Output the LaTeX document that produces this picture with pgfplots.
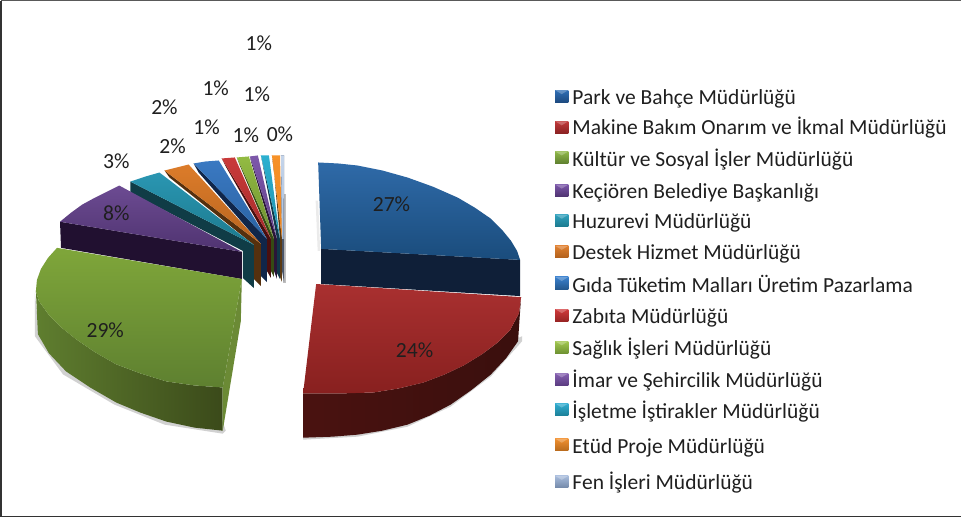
\documentclass[border=0pt]{standalone}
\usepackage{pgfplots}
\pgfplotsset{compat=1.18}
\usepackage{fontspec}
\setmainfont{Carlito}

% colours are given as HTML hex, h<hex> is defined globally for the deferred plots
\newcommand{\hc}[1]{\xglobal\definecolor{h#1}{HTML}{#1}}
\newcommand{\face}[3]{\hc{#1}\hc{#2}\addplot[draw=none,shade,top color=h#1,bottom color=h#2,forget plot] coordinates {#3} -- cycle;}
\newcommand{\side}[2]{\hc{#1}\addplot[draw=none,fill=h#1,forget plot] coordinates {#2} -- cycle;}
\newcommand{\hside}[3]{\hc{#1}\hc{#2}\addplot[draw=none,shade,left color=h#1,right color=h#2,forget plot] coordinates {#3} -- cycle;}
\newcommand{\lab}[3]{\node[text=black!88,font=\fontsize{21.5}{21.5}\selectfont] at (axis cs:#1,#2) {#3};}
\newcommand{\legrow}[5]{%
  \hc{#2}\hc{#3}%
  \addplot[draw=none,shade,top color=h#2,bottom color=h#3,forget plot] coordinates {(554,#1-6) (567,#1-6) (567,#1+6) (554,#1+6)} -- cycle;
  \addplot[draw=none,fill=white,fill opacity=0.25,forget plot] coordinates {(554,#1-6) (567,#1-6) (560.5,#1-2)} -- cycle;
  \node[anchor=base west,inner sep=0pt,text=black!88,font=\fontsize{21.4}{21.4}\selectfont] at (axis cs:571,#4) {#5};}

\begin{document}
\begin{tikzpicture}
\begin{axis}[
  scale only axis, width=961pt, height=520pt,
  xmin=-3, xmax=958, ymin=0, ymax=520, y dir=reverse,
  axis lines=none, clip=true]

% frame
\addplot[draw=black!65,line width=1.2pt,forget plot] coordinates {(965,1) (2,1)};
\addplot[draw=black!80,line width=1.5pt,forget plot] coordinates {(2,1) (2,514.5) (965,514.5)};

% soft shadows
\addplot[draw=none,fill=black!18,forget plot] coordinates {(36,292) (36,335) (64,373) (115,403) (165,423) (223,432) (226,429) (223,420) (40,330)} -- cycle;
\addplot[draw=none,fill=black!18,forget plot] coordinates {(303,438) (357,435) (407,425) (450,405) (490,375) (521,340) (521,335) (303,430)} -- cycle;
\addplot[draw=none,fill=black!25,forget plot] coordinates {(283,193) (286,193) (286,282) (283,282)} -- cycle;
\addplot[draw=none,fill=black!8,forget plot] coordinates {(315.5,200) (318,200) (320,250) (317.5,250)} -- cycle;

% small slices, back to front: dark side first, then top face
\side{4A5568}{(281,155) (284,155) (284,281) (282,270)}
\face{C4D4EA}{A8BEDC}{(281,155) (284,155) (283.5,238) (282,238)}
\side{5A3A14}{(272,155) (282,238) (282,281) (280,276) (280,238) (273.5,165)}
\face{F79228}{E88524}{(272,155) (280,155) (282,238)}
\side{10384A}{(261,155) (280,238) (280,278) (277,272) (277,238) (263,165)}
\face{2CB0D0}{2090AC}{(261,155) (269,155) (280,238)}
\side{2A1638}{(250,156) (277,238) (277,278) (274,270) (274,238) (252,164)}
\face{7D58AA}{5F4088}{(250,156) (258,155) (277,238)}
\side{364A14}{(237,157) (274,238) (274,276) (271,270) (271,238) (240,165)}
\face{93BB42}{6C8F30}{(237,157) (249,156) (274,238)}
\side{4A0F0F}{(222,158) (271,238) (271,277) (267,270) (267,238) (226,166)}
\face{C93A3A}{A52A2A}{(222,158) (235,157) (271,238)}
\side{10264A}{(194,163) (267,238) (267,281) (261,275) (261,243) (199,172)}
\face{3A79C2}{2A62A2}{(194,163) (206,161) (219,160) (267,238)}
\side{55300E}{(165,170) (261,243) (261,285) (254,278) (254,244) (170,177)}
\face{DC7C2A}{B8641F}{(165,170) (177,167) (189,164) (261,243)}
\side{103C46}{(131,181) (254,244) (254,287) (243,277) (243,250) (131,192)}
\face{2A96B2}{1C7A8E}{(131,181) (146,176) (160,172) (254,244)}

% purple
\side{211030}{(61,221) (242,251) (242,278) (62,247)}
\face{6C4B92}{4F3370}{(61,221) (72,212) (83,204) (94,198) (106,192) (120,185) (242,251)}

% blue
\side{0F1F38}{(321,248) (519,259) (519,295) (321,283)}
\face{2F6AA8}{1A4C7C}{(318,162) (338,163) (357,165) (382,170) (407,177) (432,186) (457,197) (474,207) (490,218) (501,229) (510,240) (516,250) (519,259) (321,248)}

% red
\hside{4A1210}{3A0F0D}{(520,296) (518,312) (509,329) (497,341) (481,353) (463,364) (444,373) (423,381) (398,387) (373,391) (338,392) (303,392) (303,436) (332,435) (357,433) (382,429) (407,423) (429,414) (450,403) (470,389) (490,373) (505,357) (517,340)}
\face{A93030}{88201F}{(316,283) (520,296) (518,312) (509,329) (497,341) (481,353) (463,364) (444,373) (423,381) (398,387) (373,391) (338,392) (303,392)}

% green
\hside{5F7E2F}{3B4A1A}{(37,290) (40,300) (50,314) (62,326) (77,338) (96,351) (117,363) (141,372) (167,380) (195,384) (223,386) (223,429) (195,426) (167,420) (141,411) (117,401) (91,386) (67,370) (50,352) (39,333)}
\side{6B8A35}{(242,278) (223,386) (223,429) (241,320)}
\face{7FA63A}{5E8030}{(58,247) (242,278) (223,386) (195,384) (167,380) (141,372) (117,363) (96,351) (77,338) (62,326) (50,314) (40,300) (37,290) (38,279) (42,268) (49,257)}

% data labels
\lab{391}{204}{27\%}
\lab{414}{349}{24\%}
\lab{106}{329}{29\%}
\lab{117}{213}{8\%}
\lab{117}{161}{3\%}
\lab{173}{146}{2\%}
\lab{165}{107}{2\%}
\lab{207}{127}{1\%}
\lab{216}{88}{1\%}
\lab{246}{135}{1\%}
\lab{257}{94}{1\%}
\lab{259}{43}{1\%}
\lab{280}{134}{0\%}

% legend
\legrow{96}{2F6FB5}{1D4A80}{104}{Park ve Bahçe Müdürlüğü}
\legrow{127}{C0393A}{8A2222}{134}{Makine Bakım Onarım ve İkmal Müdürlüğü}
\legrow{157}{8FB848}{5F8030}{166}{Kültür ve Sosyal İşler Müdürlüğü}
\legrow{190}{7A55A8}{4F3370}{198}{Keçiören Belediye Başkanlığı}
\legrow{220}{2FA0BC}{1C7A8E}{228}{Huzurevi Müdürlüğü}
\legrow{251}{E08030}{B0601C}{259}{Destek Hizmet Müdürlüğü}
\legrow{282}{3A80CC}{24588F}{291}{Gıda Tüketim Malları Üretim Pazarlama}
\legrow{314}{D03A3C}{982424}{322}{Zabıta Müdürlüğü}
\legrow{346}{A2C850}{6E9232}{354}{Sağlık İşleri Müdürlüğü}
\legrow{378}{8560B0}{5A3C80}{386}{İmar ve Şehircilik Müdürlüğü}
\legrow{408}{30ACD0}{1C8098}{417}{İşletme İştirakler Müdürlüğü}
\legrow{443}{F09030}{B86A1C}{452}{Etüd Proje Müdürlüğü}
\legrow{480}{A8BCDC}{7288A8}{488}{Fen İşleri Müdürlüğü}
\end{axis}
\end{tikzpicture}
\end{document}
